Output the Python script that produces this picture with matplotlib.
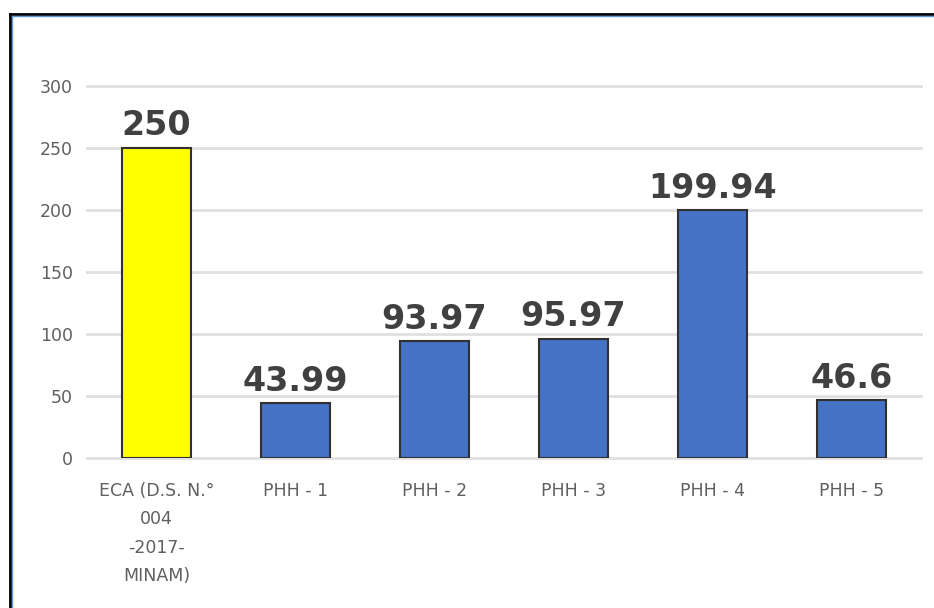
import matplotlib
matplotlib.use("Agg")
import matplotlib.pyplot as plt
from matplotlib.lines import Line2D

categories = ["ECA (D.S. N.°\n004\n-2017-\nMINAM)", "PHH - 1", "PHH - 2", "PHH - 3", "PHH - 4", "PHH - 5"]
values = [250, 43.99, 93.97, 95.97, 199.94, 46.6]
value_labels = ["250", "43.99", "93.97", "95.97", "199.94", "46.6"]
colors = ["#FFFF00", "#4472C4", "#4472C4", "#4472C4", "#4472C4", "#4472C4"]
yticks = [0, 50, 100, 150, 200, 250, 300]

plt.rcParams['font.family'] = ['DejaVu Sans']

W, H = 934, 608
fig = plt.figure(figsize=(W / 100, H / 100), dpi=100)
fig.patch.set_facecolor("white")

ax = fig.add_axes([87 / W, 1 - 458 / H, (921 - 87) / W, (458 - 86) / H])
x = list(range(len(categories)))
ax.bar(x, values, width=0.5, color=colors, edgecolor="#303030", linewidth=1.5, zorder=3)

for xi, v, lab in zip(x, values, value_labels):
    ax.annotate(lab, (xi, v), xytext=(0, 4), textcoords="offset points",
                ha="center", va="bottom", fontsize=24, fontweight="bold", color="#404040")

ax.set_xlim(-0.5, 5.5)
ax.set_ylim(0, 300)
ax.set_yticks(yticks)
ax.set_xticks(x)
ax.set_xticklabels(categories, linespacing=1.75)
ax.tick_params(axis="both", length=0, colors="#606060", labelsize=12.5)
ax.tick_params(axis="y", pad=10)
ax.tick_params(axis="x", pad=17)
ax.grid(axis="y", color="#e0e0e0", linewidth=2, zorder=0)
for gl in ax.get_ygridlines():
    gl.set_clip_on(False)
for s in ax.spines.values():
    s.set_visible(False)

# outer frame (top and left edges visible)
fig.add_artist(Line2D([10 / W, 1.0], [1 - 14 / H, 1 - 14 / H], color="black", linewidth=2, transform=fig.transFigure))
fig.add_artist(Line2D([10 / W, 10 / W], [0, 1 - 14 / H], color="black", linewidth=2, transform=fig.transFigure))
fig.add_artist(Line2D([12 / W, 1.0], [1 - 16 / H, 1 - 16 / H], color="#5b9bd5", linewidth=1, transform=fig.transFigure))
fig.add_artist(Line2D([12 / W, 12 / W], [0, 1 - 16 / H], color="#5b9bd5", linewidth=1, transform=fig.transFigure))

fig.savefig("out.png", dpi=100)
